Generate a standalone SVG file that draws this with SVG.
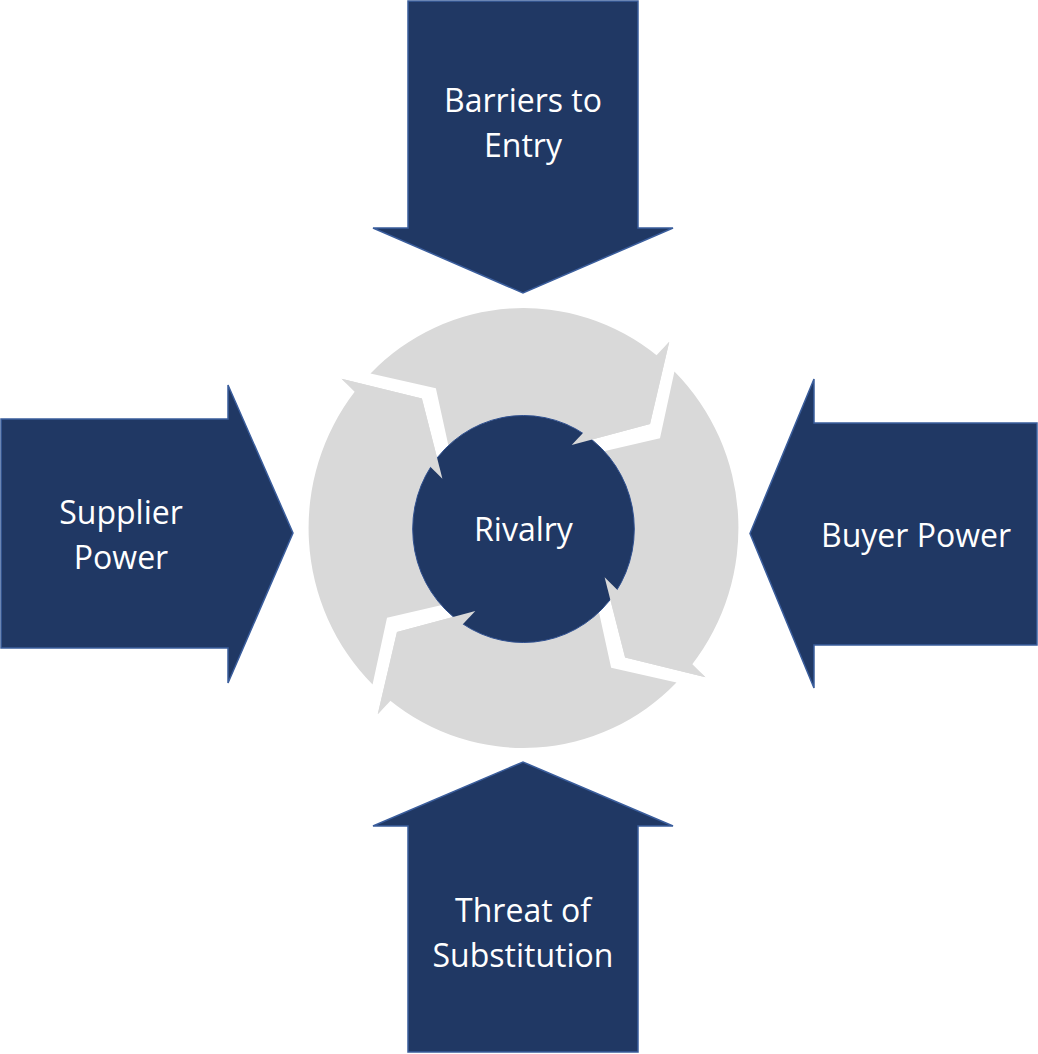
<svg xmlns="http://www.w3.org/2000/svg" xmlns:xlink="http://www.w3.org/1999/xlink" width="1038" height="1054" viewBox="0 0 1038 1054">
  <style>
    .force { fill: #203864; stroke: #3a5d9c; stroke-width: 1.5; stroke-linejoin: miter; }
    .seg { fill: #d9d9d9; }
    .hub { fill: #203864; stroke: #2f5090; stroke-width: 1; }
    .lbl { font-family: "Open Sans", "Noto Sans", "Liberation Sans", sans-serif; font-size: 32px; fill: #ffffff; text-anchor: middle; }
  </style>
  <defs>
    <path id="ringSeg" class="seg" d="M -156.6 -154.5 A 220 220 0 0 1 136.9 -172.2 L 149.2 -186.3 L 129.5 -104 L 49.3 -83 A 96.5 96.5 0 0 0 -72.6 -63.6 L -89.7 -139.7 Z"/>
    <path id="ringHead" class="seg" d="M 149.2 -186.3 L 129.5 -104 L 49.3 -83 Z"/>
  </defs>
  <rect width="1038" height="1054" fill="#ffffff"/>

  <g id="cycle-arrows" transform="translate(523.5,528) scale(0.977,1)">
    <use xlink:href="#ringSeg" href="#ringSeg"/>
    <use xlink:href="#ringSeg" href="#ringSeg" transform="rotate(90)"/>
    <use xlink:href="#ringSeg" href="#ringSeg" transform="rotate(180)"/>
    <use xlink:href="#ringSeg" href="#ringSeg" transform="rotate(270)"/>
  </g>

  <g id="rivalry">
    <ellipse class="hub" cx="523.5" cy="529" rx="110.8" ry="113.5"/>
    <text class="lbl" x="523.5" y="540.5">Rivalry</text>
  </g>

  <g id="cycle-heads" transform="translate(523.5,528) scale(0.977,1)">
    <use xlink:href="#ringHead" href="#ringHead"/>
    <use xlink:href="#ringHead" href="#ringHead" transform="rotate(90)"/>
    <use xlink:href="#ringHead" href="#ringHead" transform="rotate(180)"/>
    <use xlink:href="#ringHead" href="#ringHead" transform="rotate(270)"/>
  </g>

  <g id="barriers">
    <polygon class="force" points="408,1 638,1 638,228 673,228 523,293 373,228 408,228"/>
    <text class="lbl" x="523" y="111.5">Barriers to</text>
    <text class="lbl" x="523" y="156.5">Entry</text>
  </g>

  <g id="supplier">
    <polygon class="force" points="1,419 228,419 228,385 293,533 228,683 228,648 1,648"/>
    <text class="lbl" x="121" y="524">Supplier</text>
    <text class="lbl" x="121" y="569">Power</text>
  </g>

  <g id="buyer">
    <polygon class="force" points="1037,423 814,423 814,379 750,533.5 814,688 814,645 1037,645"/>
    <text class="lbl" x="916" y="546.5">Buyer Power</text>
  </g>

  <g id="threat">
    <polygon class="force" points="408,1052 638,1052 638,826 673,826 523,762 373,826 408,826"/>
    <text class="lbl" x="523" y="921.5">Threat of</text>
    <text class="lbl" x="523" y="966.5">Substitution</text>
  </g>
</svg>
